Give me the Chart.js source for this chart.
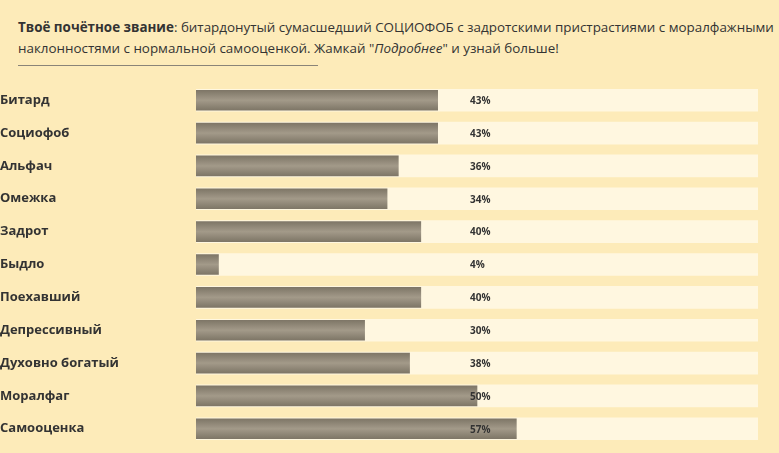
<!DOCTYPE html>
<html><head><meta charset="utf-8">
<script src="https://cdn.jsdelivr.net/npm/chart.js@4"></script>
<style>
html,body{margin:0;padding:0;background:#FDEBB9;width:779px;height:453px;overflow:hidden;font-family:"Open Sans",sans-serif;}
#txt{position:absolute;left:18px;top:17px;width:760px;font-size:13.4px;line-height:21px;color:#333;}
#hr{position:absolute;left:18px;top:65px;width:300px;height:1px;background:#8a8478;}
#wrap{position:absolute;left:0;top:76px;width:779px;height:377px;}
</style></head><body>
<div id="txt"><b>Твоё почётное звание</b>: битардонутый сумасшедший СОЦИОФОБ с задротскими пристрастиями с моралфажными наклонностями с нормальной самооценкой. Жамкай "<i>Подробнее</i>" и узнай больше!</div>
<div id="hr"></div>
<div id="wrap"><canvas id="c"></canvas></div>
<script>
const categories=["Битард","Социофоб","Альфач","Омежка","Задрот","Быдло","Поехавший","Депрессивный","Духовно богатый","Моралфаг","Самооценка"];
const values=[43,43,36,34,40,4,40,30,38,50,57];
const track=categories.map(()=>100);
const grad=(ctx)=>{
  const ch=ctx.chart, y=ch.scales&&ch.scales.y;
  if(!y||ctx.dataIndex===undefined) return '#8f877a';
  const c=y.getPixelForValue(ctx.dataIndex);
  if(!isFinite(c)) return '#8f877a';
  const g=ch.ctx.createLinearGradient(0,c-10,0,c+10);
  g.addColorStop(0,'#7e7667');g.addColorStop(0.5,'#a39a89');g.addColorStop(1,'#7e7667');
  return g;
};
const pct={id:'pct',afterDatasetsDraw(ch){
  const c=ch.ctx,y=ch.scales.y;
  c.save();c.font='bold 10px "Open Sans"';c.fillStyle='#333';c.textBaseline='middle';
  values.forEach((v,i)=>c.fillText(v+'%',470,y.getPixelForValue(i)+1));
  c.restore();
}};
new Chart(document.getElementById('c'),{
  type:'bar',
  data:{labels:categories,datasets:[
    {data:values,backgroundColor:grad,barThickness:20,grouped:false,order:0},
    {data:track,backgroundColor:'#FFF7E0',barThickness:22,grouped:false,order:1}
  ]},
  options:{indexAxis:'y',responsive:true,maintainAspectRatio:false,animation:false,
    layout:{padding:{top:0,bottom:3,right:21,left:0}},
    plugins:{legend:{display:false},tooltip:{enabled:false}},
    scales:{
      x:{display:false,min:0,max:100},
      y:{grid:{display:false},border:{display:false},
        afterFit(s){s.width=196;},
        ticks:{crossAlign:'far',padding:0,color:'#333',font:{family:'"Open Sans"',size:13,weight:'bold'}}}
    }},
  plugins:[pct]
});
</script></body></html>
